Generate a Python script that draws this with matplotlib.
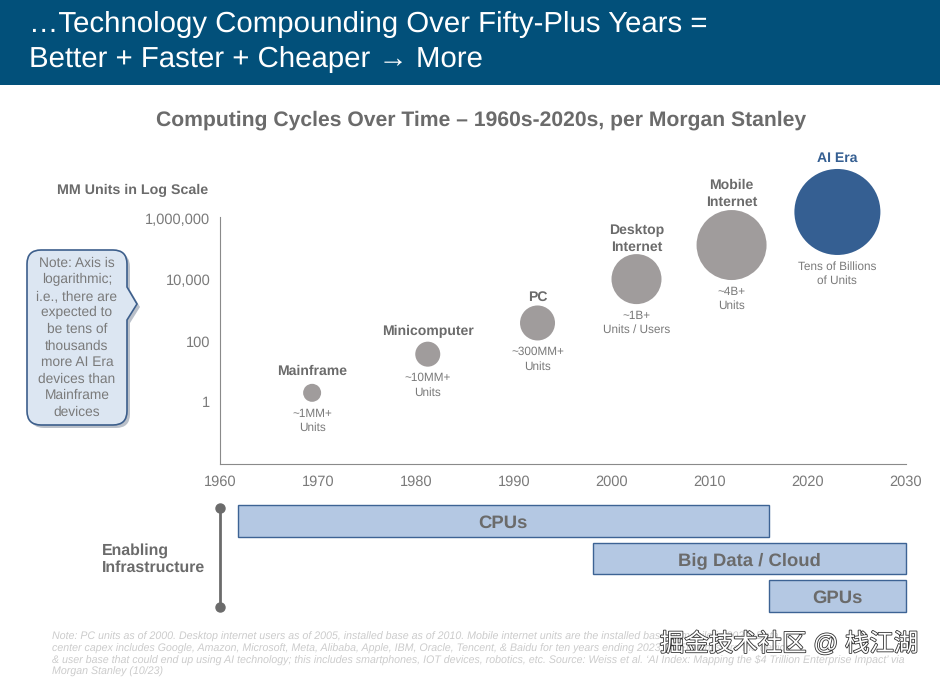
import matplotlib
matplotlib.use("Agg")
import matplotlib.pyplot as plt
from matplotlib.patches import Rectangle, PathPatch
from matplotlib.path import Path
import matplotlib.patheffects as pe

plt.rcParams['font.family'] = ['Liberation Sans', 'Noto Sans CJK SC', 'DejaVu Sans']
plt.rcParams['text.hinting'] = 'no_hinting'
plt.rcParams['text.hinting_factor'] = 8

W, H = 940, 678
GREY = '#6b6b6b'
TXT = '#7a7a7a'

# data
eras = ['Mainframe', 'Minicomputer', 'PC', 'Desktop\nInternet', 'Mobile\nInternet', 'AI Era']
era_years = [1969.4, 1981.2, 1992.4, 2002.5, 2012.2, 2023.0]
era_units = [2.0, 37, 390, 10700, 140000, 1700000]
era_radius = [9, 12.5, 17.5, 25, 35, 43]
era_label_gaps = [6, 4, 2, 0, 1, 4]
era_notes = ['~1MM+\nUnits', '~10MM+\nUnits', '~300MM+\nUnits', '~1B+\nUnits / Users', '~4B+\nUnits', 'Tens of Billions\nof Units']
era_colors = ['#a09c9c'] * 5 + ['#355f92']
y_ticks = [1, 100, 10000, 1000000]
y_labels = ['1', '100', '10,000', '1,000,000']
x_ticks = list(range(1960, 2031, 10))
infra = ['CPUs', 'Big Data / Cloud', 'GPUs']
infra_start = [1961.8, 1998.1, 2016.0]
infra_end = [2016.0, 2030.0, 2030.0]

fig = plt.figure(figsize=(W / 100, H / 100), dpi=100, facecolor='white')

def rect_px(l, t, r, b):
    return [l / W, 1 - b / H, (r - l) / W, (b - t) / H]

# full-figure pixel overlay for slide furniture
bg = fig.add_axes([0, 0, 1, 1], zorder=0)
bg.set_xlim(0, W); bg.set_ylim(H, 0); bg.axis('off')
bg.add_patch(Rectangle((0, 0), W, 85, color='#02507a', lw=0))
bg.text(29, 24, '…Technology Compounding Over Fifty-Plus Years =', color='white', fontsize=21.15, va='center')
bg.text(29, 59, 'Better + Faster + Cheaper → More', color='white', fontsize=21.15, va='center')
bg.text(481, 120, 'Computing Cycles Over Time – 1960s-2020s, per Morgan Stanley', color=GREY,
        fontsize=15.2, fontweight='bold', ha='center', va='center')
bg.text(133, 190.5, 'MM Units in Log Scale', color=GREY, fontsize=10.3, fontweight='bold', ha='center', va='center')

# main chart
ax = fig.add_axes(rect_px(220, 217, 906, 464), zorder=1)
ax.patch.set_alpha(0)
ax.set_xlim(1960, 2030)
ax.set_yscale('log')
px_per_decade = 30.5
ax.set_ylim(10 ** (-62 / px_per_decade), 10 ** (185 / px_per_decade))
ax.spines[['top', 'right']].set_visible(False)
ax.spines['left'].set_color('#8a8a8a'); ax.spines['bottom'].set_color('#8a8a8a')
ax.set_xticks(x_ticks); ax.set_yticks(y_ticks); ax.set_yticklabels(y_labels)
ax.minorticks_off()
ax.tick_params(axis='both', length=0, labelsize=10.5, labelcolor=TXT)
ax.tick_params(axis='x', pad=8)
ax.tick_params(axis='y', pad=7)
sizes = [(2 * r * 0.72) ** 2 for r in era_radius]
ax.scatter(era_years, era_units, s=sizes, c=era_colors, linewidths=0, zorder=3, clip_on=False)
for name, x, u, r, note, gap in zip(eras, era_years, era_units, era_radius, era_notes, era_label_gaps):
    ax.annotate(name, (x, u), xytext=(0, (r + gap) * 0.72), textcoords='offset points', ha='center', va='bottom',
                fontsize=10.1, fontweight='bold', color='#355f92' if name == 'AI Era' else GREY,
                linespacing=1.4, annotation_clip=False)
    ax.annotate(note, (x, u), xytext=(0, -(r + 6) * 0.72), textcoords='offset points', ha='center', va='top',
                fontsize=8.5, color=TXT, linespacing=1.38, annotation_clip=False)

# infrastructure bars
bx = fig.add_axes(rect_px(220, 502.25, 906, 614.75), zorder=1)
bx.patch.set_alpha(0)
bx.set_xlim(1960, 2030)
bx.set_ylim(2.5, -0.5)
bx.axis('off')
widths = [e - s for s, e in zip(infra_start, infra_end)]
bx.barh(range(3), widths, left=infra_start, height=0.853, color='#b4c8e3', edgecolor='#3d6394', linewidth=1.0, clip_on=False)
for i, (n, s, e) in enumerate(zip(infra, infra_start, infra_end)):
    bx.text((s + e) / 2, i, n, ha='center', va='center_baseline', fontsize=13.3, fontweight='bold', color=GREY)

bg.plot([219.5, 219.5], [508, 607], color=GREY, lw=2, marker='o', ms=6.5, solid_capstyle='butt')
bg.text(102, 559, 'Enabling\nInfrastructure', color=GREY, fontsize=11.4, fontweight='bold', va='center', linespacing=1.25)

# callout with rounded corners and a pointer on its right side
def callout(dx=0, dy=0):
    L, R, T, B, c = 27 + dx, 127 + dx, 250 + dy, 425 + dy, 14
    verts = [(L + c, T), (R - c, T), (R, T), (R, T + c), (R, 287 + dy), (137 + dx, 304 + dy), (R, 320 + dy),
             (R, B - c), (R, B), (R - c, B), (L + c, B), (L, B), (L, B - c), (L, T + c), (L, T), (L + c, T), (L + c, T)]
    codes = [Path.MOVETO, Path.LINETO, Path.CURVE3, Path.CURVE3, Path.LINETO, Path.LINETO, Path.LINETO,
             Path.LINETO, Path.CURVE3, Path.CURVE3, Path.LINETO, Path.CURVE3, Path.CURVE3, Path.LINETO,
             Path.CURVE3, Path.CURVE3, Path.CLOSEPOLY]
    return Path(verts, codes)

bg.add_patch(PathPatch(callout(3, 3), fc='#8d97a6', ec='none', alpha=.6))
bg.add_patch(PathPatch(callout(), fc='#dce6f2', ec='#3d5f8c', lw=1.2))
bg.text(77, 337.5, 'Note: Axis is\nlogarithmic;\ni.e., there are\nexpected to\nbe tens of\nthousands\nmore AI Era\ndevices than\nMainframe\ndevices',
        color=TXT, fontsize=9.9, ha='center', va='center', linespacing=1.345)

# footnote
foot = ('Note: PC units as of 2000. Desktop internet users as of 2005, installed base as of 2010. Mobile internet units are the installed base of mobile in 2020. Data\n'
        'center capex includes Google, Amazon, Microsoft, Meta, Alibaba, Apple, IBM, Oracle, Tencent, & Baidu for ten years ending 2023. AI Era units are the device\n'
        '& user base that could end up using AI technology; this includes smartphones, IOT devices, robotics, etc. Source: Weiss et al. ‘AI Index: Mapping the $4 Trillion Enterprise Impact’ via\n'
        'Morgan Stanley (10/23)')
bg.text(52, 654.5, foot, color='#cccccc', fontsize=7.7, style='italic', va='center', linespacing=1.15)

# watermark
top = fig.add_axes([0, 0, 1, 1], zorder=5)
top.set_xlim(0, W); top.set_ylim(H, 0); top.axis('off'); top.patch.set_alpha(0)
t = top.text(789, 644, '掘金技术社区 @ 栈江湖', color='white', fontsize=17.6, ha='center', va='center')
t.set_path_effects([pe.withStroke(linewidth=1.2, foreground='#333333')])

fig.savefig('out.png', dpi=100)
